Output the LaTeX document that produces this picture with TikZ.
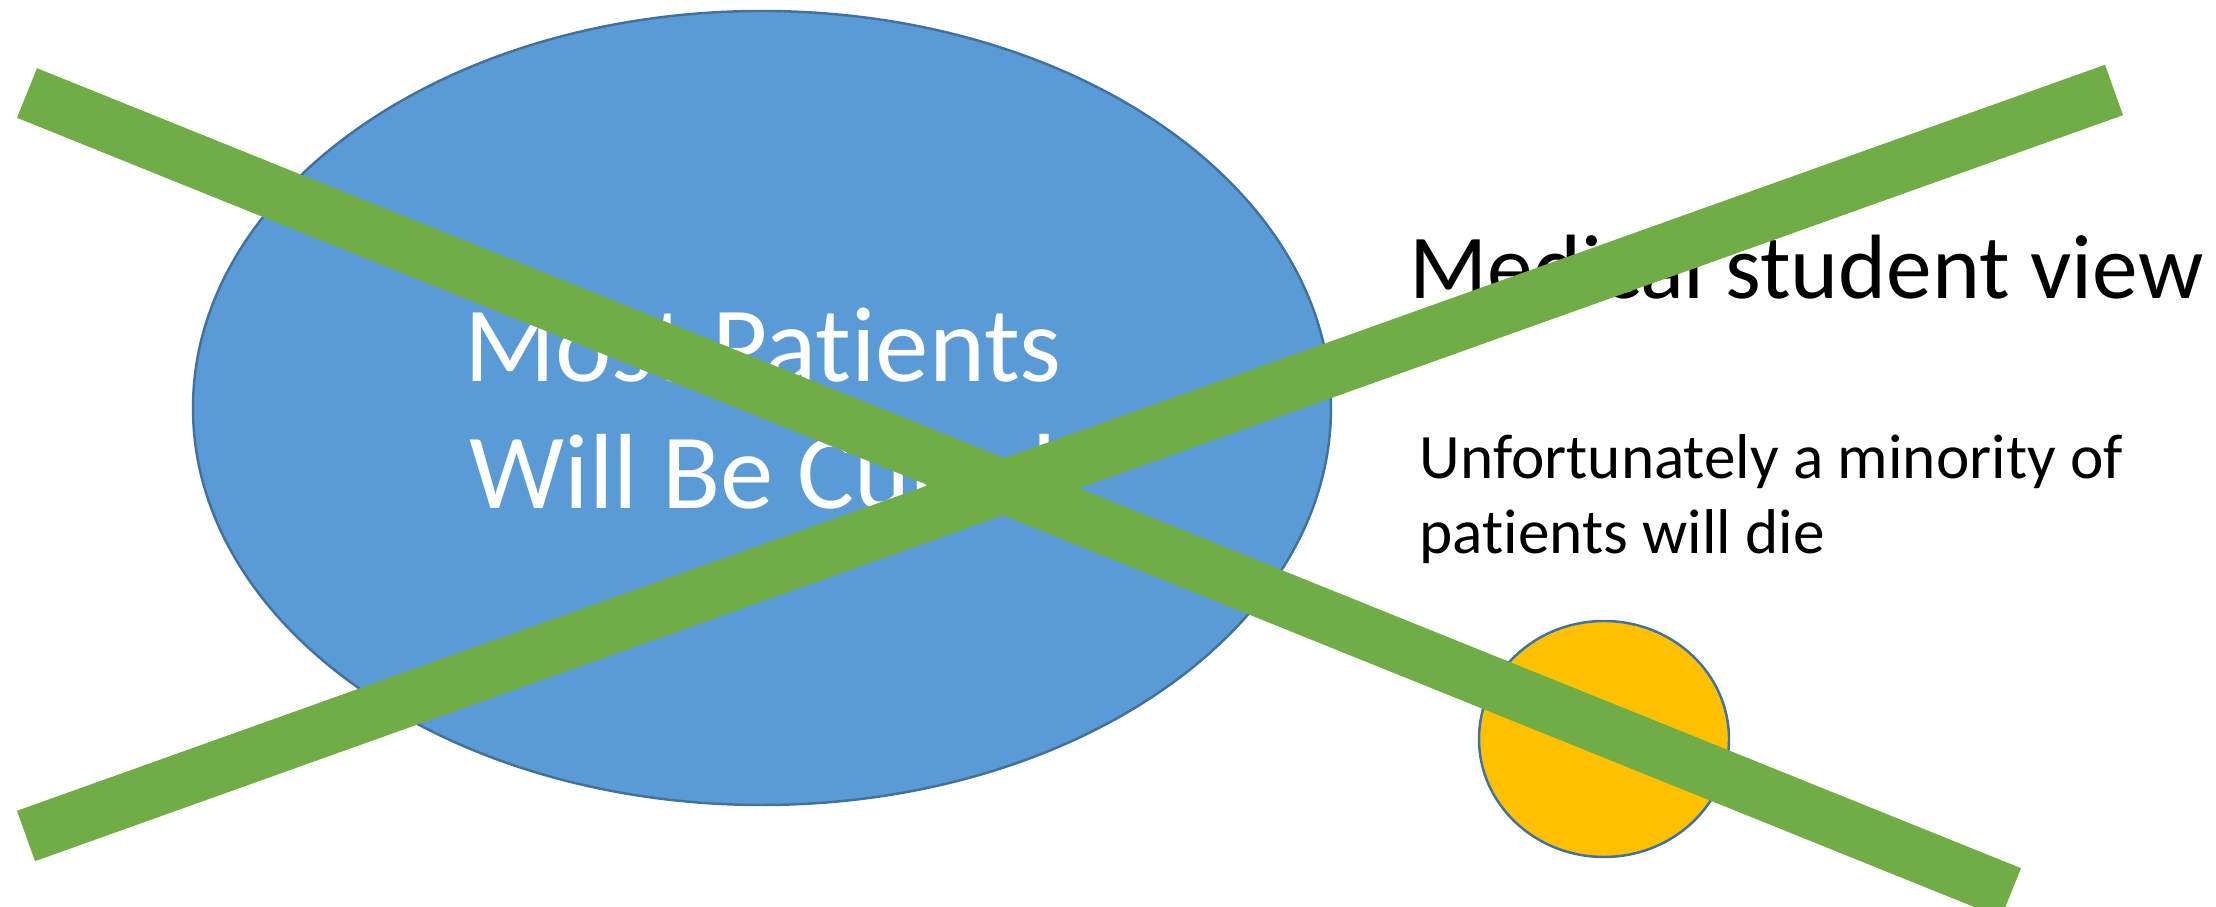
\documentclass[tikz,border=0pt]{standalone}
\usepackage{fontspec}
\setmainfont{Carlito}[Ligatures=NoCommon]
\usetikzlibrary{shapes.geometric}
\definecolor{cblue}{HTML}{5B9BD5}
\definecolor{cedge}{HTML}{41719C}
\definecolor{cgreen}{HTML}{70AD47}
\definecolor{cgold}{HTML}{FFC000}
\tikzset{
  blob/.style={ellipse, draw=cedge, line width=0.7pt, fill=#1, inner sep=0pt},
  blob/.default=cblue,
  cross/.style={draw=cgreen, line width=0.535cm},
  label/.style={inner sep=0pt, anchor=base west, align=left},
}

\begin{document}
\begin{tikzpicture}
  \useasboundingbox (0,0) rectangle (22.16,9.07);
  % ---------- the two groups of patients
  \node[blob=cblue, minimum width=11.38cm, minimum height=7.94cm] (cured) at (7.62,4.99) {};
  \node[blob=cgold, minimum width=2.5cm, minimum height=2.36cm] (die) at (16.04,1.68) {};
  \node[inner sep=0pt, anchor=base, align=center, text=white,
    font=\fontsize{30.4pt}{36.4pt}\selectfont] (curedtext) at (7.63,3.98) {Most Patients\\Will Be Cured};
  % ---------- text on the right
  \node[label, font=\fontsize{26pt}{32pt}\selectfont] (view) at (14.09,6.08) {Medical student view};
  \node[label, font=\fontsize{18pt}{21.6pt}\selectfont] (minority) at (14.19,3.53) {Unfortunately a minority of\\patients will die};
  % ---------- crossed out
  \coordinate (a1) at (0.27,8.14);
  \coordinate (a2) at (20.11,0.14);
  \coordinate (b1) at (0.26,0.71);
  \coordinate (b2) at (21.14,8.17);
  \draw[cross] (a1) -- (a2);
  \draw[cross] (b1) -- (b2);
\end{tikzpicture}
\end{document}
